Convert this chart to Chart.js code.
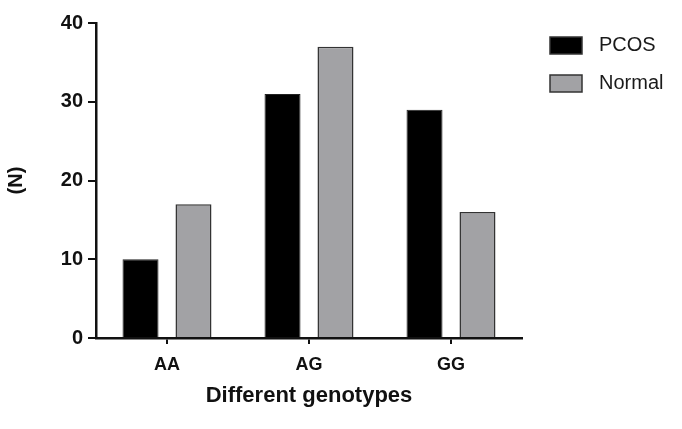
<!DOCTYPE html>
<html>
<head>
<meta charset="utf-8">
<script src="https://cdn.jsdelivr.net/npm/chart.js@4"></script>
<style>
  html, body { margin: 0; padding: 0; background: #fff; }
  #wrap { width: 682px; height: 429px; }
</style>
</head>
<body>
<div id="wrap"><canvas id="chart" width="682" height="429"></canvas></div>
<script>
// data
var genotypes = ['AA', 'AG', 'GG'];
var pcos = [10, 31, 29];
var normal = [17, 37, 16];
var yTicks = [0, 10, 20, 30, 40];

var FONT = '"Liberation Sans", Arial, sans-serif';

// simple legend drawn at the top right, like the original
var sideLegend = {
    id: 'sideLegend',
    afterDraw: function (chart) {
        var ctx = chart.ctx;
        ctx.save();
        chart.data.datasets.forEach(function (ds, i) {
            var x = 550, y = 37 + i * 38;
            ctx.fillStyle = ds.backgroundColor;
            ctx.fillRect(x, y, 32, 17);
            ctx.lineWidth = 1.5;
            ctx.strokeStyle = '#333';
            ctx.strokeRect(x, y, 32, 17);
            ctx.fillStyle = '#1a1a1a';
            ctx.font = '20px ' + FONT;
            ctx.textBaseline = 'middle';
            ctx.fillText(ds.label, 599, y + 8);
        });
        ctx.restore();
    }
};

new Chart(document.getElementById('chart'), {
    type: 'bar',
    data: {
        labels: genotypes,
        datasets: [
            { label: 'PCOS', data: pcos, backgroundColor: '#000000', borderColor: '#222', borderWidth: 1 },
            { label: 'Normal', data: normal, backgroundColor: '#a2a2a5', borderColor: '#333', borderWidth: 1.5 }
        ]
    },
    options: {
        responsive: false,
        animation: false,
        layout: { padding: { top: 23, right: 160, left: 0, bottom: 0 } },
        datasets: { bar: { categoryPercentage: 0.746, barPercentage: 0.68 } },
        plugins: { legend: { display: false }, tooltip: { enabled: false } },
        scales: {
            x: {
                grid: { display: true, drawOnChartArea: false, drawTicks: true, tickLength: 6, offset: false, color: '#111', lineWidth: 2 },
                border: { display: true, color: '#111', width: 2.5 },
                ticks: { color: '#111', padding: 10, font: { family: FONT, size: 18, weight: 'bold' } },
                title: { display: true, text: 'Different genotypes', color: '#111', padding: { top: 0, bottom: 20 }, font: { family: FONT, size: 22, weight: 'bold' } },
                afterFit: function (s) { s.height = 91; }
            },
            y: {
                min: 0,
                max: 40,
                afterBuildTicks: function (s) { s.ticks = yTicks.map(function (v) { return { value: v }; }); },
                grid: { display: true, drawOnChartArea: false, drawTicks: true, tickLength: 8, color: '#111', lineWidth: 2 },
                border: { display: true, color: '#111', width: 2.5 },
                ticks: { color: '#111', padding: 5, font: { family: FONT, size: 20, weight: 'bold' } },
                title: { display: true, text: '(N)', color: '#111', padding: { top: 4, bottom: 0 }, font: { family: FONT, size: 20, weight: 'bold' } },
                afterFit: function (s) { s.width = 96; }
            }
        }
    },
    plugins: [sideLegend]
});
</script>
</body>
</html>
